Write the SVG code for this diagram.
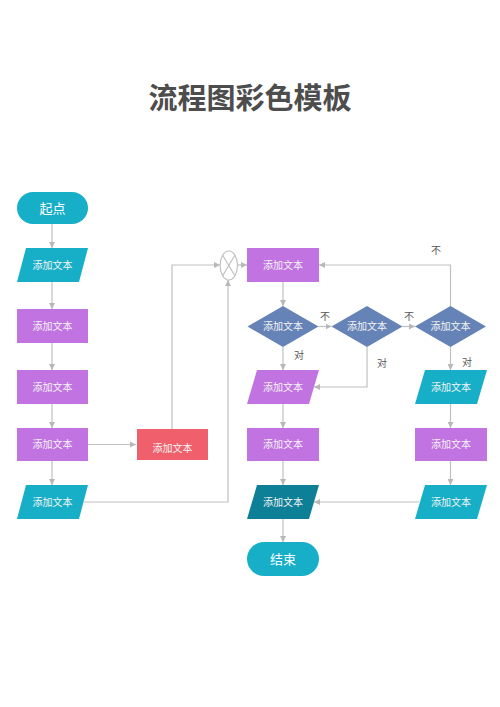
<svg xmlns="http://www.w3.org/2000/svg" width="500" height="707" viewBox="0 0 500 707">
<defs>
<marker id="ar" viewBox="0 0 6 6" refX="6" refY="3" markerWidth="6" markerHeight="6" orient="auto" markerUnits="userSpaceOnUse">
<path d="M0,0 L6,3 L0,6 Z" fill="#b8b8b8"/>
</marker>
<style>
.c{fill:none;stroke:#c0c0c0;stroke-width:1.2}
.t{font-family:"Noto Sans CJK SC","Noto Sans",sans-serif;font-size:10px;fill:#f4f4f4;text-anchor:middle}
.tb{font-family:"Noto Sans CJK SC","Noto Sans",sans-serif;font-size:13px;fill:#ffffff;text-anchor:middle}
.l{font-family:"Noto Sans CJK SC","Noto Sans",sans-serif;font-size:10px;fill:#555555;text-anchor:middle}
.teal{fill:#17afc7}
.pur{fill:#c173e2}
.red{fill:#f0606c}
.dia{fill:#6583b7}
.dk{fill:#0d7f97}
</style>
</defs>
<rect width="500" height="707" fill="#ffffff"/>
<text x="250" y="109" font-family="'Noto Sans CJK SC',sans-serif" font-size="29" font-weight="bold" fill="#4d4d4d" text-anchor="middle">流程图彩色模板</text>

<g id="connectors">
<path class="c" d="M52,224 V248" marker-end="url(#ar)"/>
<path class="c" d="M52,282 V309" marker-end="url(#ar)"/>
<path class="c" d="M52,343 V370" marker-end="url(#ar)"/>
<path class="c" d="M52,404 V428" marker-end="url(#ar)"/>
<path class="c" d="M52,461 V485" marker-end="url(#ar)"/>
<path class="c" d="M88,444.5 H136" marker-end="url(#ar)"/>
<path class="c" d="M172,429 V265 H220" marker-end="url(#ar)"/>
<path class="c" d="M84,502 H228 V280" marker-end="url(#ar)"/>
<path class="c" d="M237.5,265 H247" marker-end="url(#ar)"/>
<path class="c" d="M283,282 V306" marker-end="url(#ar)"/>
<path class="c" d="M318.5,326.5 H331.5" marker-end="url(#ar)"/>
<path class="c" d="M402.5,326.5 H415" marker-end="url(#ar)"/>
<path class="c" d="M283,347 V370" marker-end="url(#ar)"/>
<path class="c" d="M367,347 V387 H314" marker-end="url(#ar)"/>
<path class="c" d="M450.5,306 V265 H319" marker-end="url(#ar)"/>
<path class="c" d="M450.5,347 V370" marker-end="url(#ar)"/>
<path class="c" d="M283,404 V428" marker-end="url(#ar)"/>
<path class="c" d="M283,461 V485" marker-end="url(#ar)"/>
<path class="c" d="M283,519 V542" marker-end="url(#ar)"/>
<path class="c" d="M450.5,404 V428" marker-end="url(#ar)"/>
<path class="c" d="M450.5,461 V485" marker-end="url(#ar)"/>
<path class="c" d="M419,502 H314" marker-end="url(#ar)"/>
<text class="l" x="325" y="320">不</text>
<text class="l" x="409" y="320">不</text>
<text class="l" x="436" y="254">不</text>
<text class="l" x="299" y="359">对</text>
<text class="l" x="382" y="367">对</text>
<text class="l" x="467" y="366">对</text>
</g>

<g id="start"><rect class="teal" x="17" y="192" width="71" height="32" rx="16"/><text class="tb" x="52.5" y="212.5">起点</text></g>
<g id="l1"><polygon class="teal" points="26,248 88,248 79,282 17,282"/><text class="t" x="52.5" y="268.5">添加文本</text></g>
<g id="l2"><rect class="pur" x="17" y="309" width="71" height="34"/><text class="t" x="52.5" y="329.5">添加文本</text></g>
<g id="l3"><rect class="pur" x="17" y="370" width="71" height="34"/><text class="t" x="52.5" y="390.5">添加文本</text></g>
<g id="l4"><rect class="pur" x="17" y="428" width="71" height="33"/><text class="t" x="52.5" y="448">添加文本</text></g>
<g id="l5"><polygon class="teal" points="26,485 88,485 79,519 17,519"/><text class="t" x="52.5" y="505.5">添加文本</text></g>
<g id="red"><rect class="red" x="137" y="429" width="71" height="31"/><text class="t" x="172.5" y="452">添加文本</text></g>
<g id="junction"><ellipse cx="228.8" cy="265.5" rx="8.7" ry="14.5" fill="#ffffff" stroke="#c0c0c0" stroke-width="1.2"/><path d="M222.7,255.2 L234.9,275.8 M234.9,255.2 L222.7,275.8" stroke="#c0c0c0" stroke-width="1.2" fill="none"/></g>
<g id="m1"><rect class="pur" x="247" y="248" width="72" height="34"/><text class="t" x="283" y="268.5">添加文本</text></g>
<g id="d1"><polygon class="dia" points="283,306 318.5,326.5 283,347 247.5,326.5"/><text class="t" x="283" y="330">添加文本</text></g>
<g id="d2"><polygon class="dia" points="367,306 402.5,326.5 367,347 331.5,326.5"/><text class="t" x="367" y="330">添加文本</text></g>
<g id="d3"><polygon class="dia" points="450.5,306 486,326.5 450.5,347 415,326.5"/><text class="t" x="450.5" y="330">添加文本</text></g>
<g id="m2"><polygon class="pur" points="257,370 319,370 309,404 247,404"/><text class="t" x="283" y="390.5">添加文本</text></g>
<g id="m3"><rect class="pur" x="247" y="428" width="72" height="33"/><text class="t" x="283" y="448">添加文本</text></g>
<g id="m4"><polygon class="dk" points="257,485 319,485 309,519 247,519"/><text class="t" x="283" y="505.5">添加文本</text></g>
<g id="end"><rect class="teal" x="247" y="542" width="72" height="34" rx="17"/><text class="tb" x="283" y="563.5">结束</text></g>
<g id="r1"><polygon class="teal" points="425,370 487,370 477,404 415,404"/><text class="t" x="451" y="390.5">添加文本</text></g>
<g id="r2"><rect class="pur" x="415" y="428" width="72" height="33"/><text class="t" x="451" y="448">添加文本</text></g>
<g id="r3"><polygon class="teal" points="425,485 487,485 477,519 415,519"/><text class="t" x="451" y="505.5">添加文本</text></g>
</svg>
